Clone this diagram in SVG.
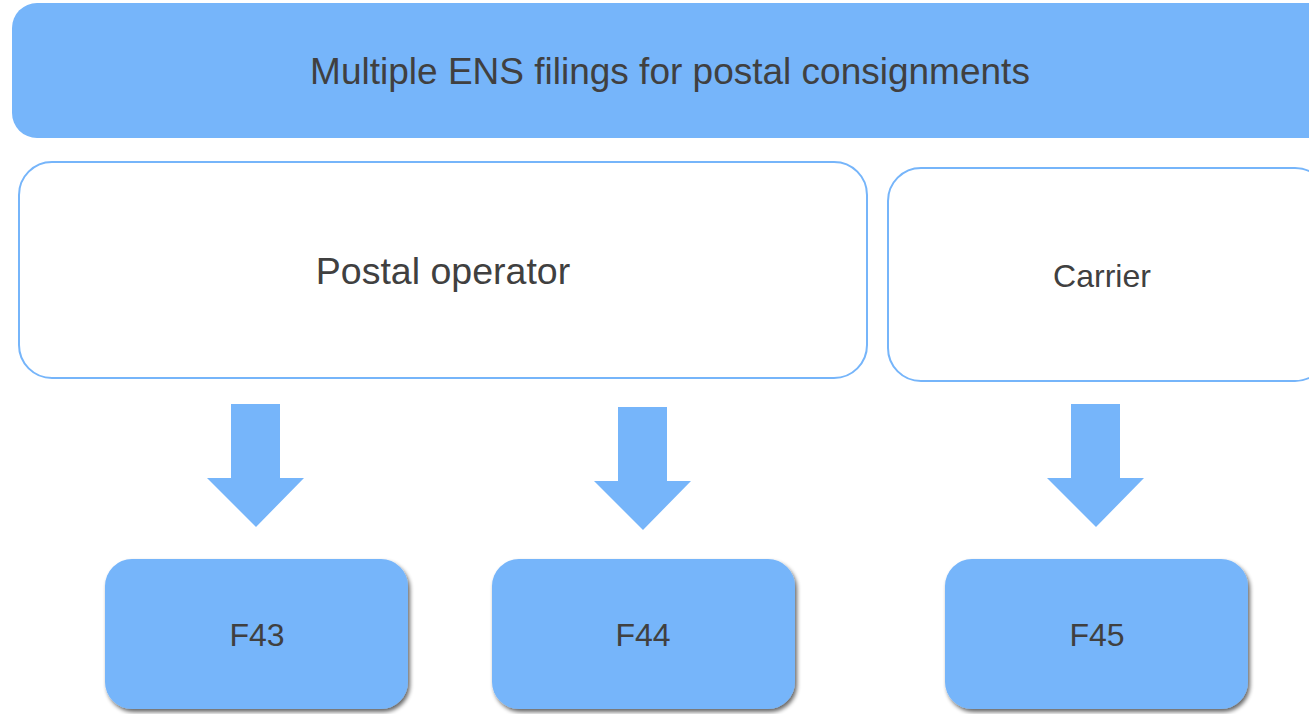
<svg xmlns="http://www.w3.org/2000/svg" width="1309" height="714" viewBox="0 0 1309 714">
<defs>
<style>
.t{font-family:"Liberation Sans",Arial,sans-serif;fill:#404040;text-anchor:middle}
.blue{fill:#76B5FA}
.outline{fill:#fff;stroke:#76B5FA;stroke-width:2}
</style>
<filter id="sh" x="-10%" y="-10%" width="130%" height="130%">
<feGaussianBlur in="SourceAlpha" stdDeviation="2"/>
<feOffset dx="2" dy="3" result="b"/>
<feComponentTransfer><feFuncA type="linear" slope="0.6"/></feComponentTransfer>
<feMerge><feMergeNode/><feMergeNode in="SourceGraphic"/></feMerge>
</filter>
</defs>
<rect width="1309" height="714" fill="#fff"/>
<g id="header">
<rect class="blue" x="12" y="3" width="1330" height="135" rx="25"/>
<text class="t" x="670" y="84" font-size="37">Multiple ENS filings for postal consignments</text>
</g>
<g id="postal-operator">
<rect class="outline" x="19" y="162" width="848" height="216" rx="33"/>
<text class="t" x="443" y="284" font-size="37.5">Postal operator</text>
</g>
<g id="carrier">
<rect class="outline" x="888" y="168" width="440" height="213" rx="33"/>
<text class="t" x="1102" y="287" font-size="32">Carrier</text>
</g>
<g id="connectors">
<polygon class="blue" points="231,404 280,404 280,478 304,478 256,527 207,478 231,478"/>
<polygon class="blue" points="618,407 667,407 667,481 691,481 643,530 594,481 618,481"/>
<polygon class="blue" points="1071,404 1120,404 1120,478 1144,478 1096,527 1047,478 1071,478"/>
</g>
<g id="f43">
<rect class="blue" x="105" y="559" width="303" height="150" rx="27" filter="url(#sh)"/>
<text class="t" x="257" y="646" font-size="32">F43</text>
</g>
<g id="f44">
<rect class="blue" x="492" y="559" width="303" height="150" rx="27" filter="url(#sh)"/>
<text class="t" x="643" y="646" font-size="32">F44</text>
</g>
<g id="f45">
<rect class="blue" x="945" y="559" width="303" height="150" rx="27" filter="url(#sh)"/>
<text class="t" x="1097" y="646" font-size="32">F45</text>
</g>
</svg>
